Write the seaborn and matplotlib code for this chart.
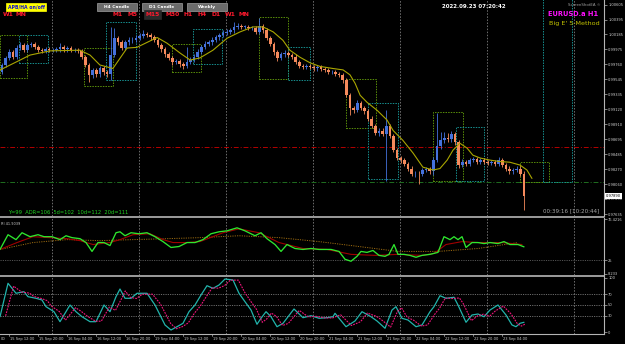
import numpy as np
import pandas as pd
import matplotlib
matplotlib.use("Agg")
import matplotlib.pyplot as plt
import seaborn as sns
from matplotlib.patches import Rectangle
from matplotlib.lines import Line2D

# ---------------- data ----------------
OPEN = [0.9965, 0.9975, 0.9985, 0.9993, 0.9987, 0.9999, 1.0003, 0.9996, 1.0003, 1.0005,
        1.0000, 0.9996, 0.9995, 0.9997, 0.9996, 0.9996, 0.9997, 1.0000, 0.9997, 0.9999,
        0.9996, 0.9996, 0.9995, 0.9986, 0.9975, 0.9961, 0.9968, 0.9962, 0.9970, 0.9965,
        0.9962, 0.9989, 1.0013, 1.0007, 0.9999, 1.0007, 1.0010, 1.0010, 1.0013, 1.0016,
        1.0019, 1.0017, 1.0014, 1.0010, 1.0003, 0.9997, 0.9990, 0.9985, 0.9979, 0.9980,
        0.9976, 0.9973, 0.9979, 0.9982, 0.9986, 0.9993, 1.0000, 1.0005, 1.0007, 1.0010,
        1.0014, 1.0017, 1.0020, 1.0022, 1.0024, 1.0029, 1.0030, 1.0029, 1.0029, 1.0027,
        1.0027, 1.0022, 1.0030, 1.0024, 1.0013, 1.0005, 0.9993, 0.9985, 0.9990, 0.9992,
        0.9989, 0.9987, 0.9979, 0.9973, 0.9972, 0.9973, 0.9972, 0.9970, 0.9972, 0.9969,
        0.9968, 0.9965, 0.9965, 0.9962, 0.9961, 0.9953, 0.9932, 0.9914, 0.9911, 0.9921,
        0.9914, 0.9909, 0.9899, 0.9888, 0.9878, 0.9882, 0.9877, 0.9888, 0.9874, 0.9854,
        0.9843, 0.9840, 0.9834, 0.9828, 0.9820, 0.9821, 0.9820, 0.9826, 0.9827, 0.9824,
        0.9840, 0.9860, 0.9868, 0.9872, 0.9870, 0.9877, 0.9865, 0.9833, 0.9837, 0.9834,
        0.9840, 0.9841, 0.9838, 0.9840, 0.9837, 0.9836, 0.9837, 0.9834, 0.9840, 0.9833,
        0.9828, 0.9824, 0.9826, 0.9828, 0.9821]
CLOSE = [0.9975, 0.9985, 0.9993, 0.9987, 0.9999, 1.0003, 0.9996, 1.0003, 1.0005, 1.0000,
         0.9996, 0.9995, 0.9997, 0.9996, 0.9996, 0.9997, 1.0000, 0.9997, 0.9999, 0.9996,
         0.9996, 0.9995, 0.9986, 0.9975, 0.9961, 0.9968, 0.9962, 0.9970, 0.9965, 0.9962,
         0.9989, 1.0013, 1.0007, 0.9999, 1.0007, 1.0010, 1.0010, 1.0013, 1.0016, 1.0019,
         1.0017, 1.0014, 1.0010, 1.0003, 0.9997, 0.9990, 0.9985, 0.9979, 0.9980, 0.9976,
         0.9973, 0.9979, 0.9982, 0.9986, 0.9993, 1.0000, 1.0005, 1.0007, 1.0010, 1.0014,
         1.0017, 1.0020, 1.0022, 1.0024, 1.0029, 1.0030, 1.0029, 1.0029, 1.0027, 1.0027,
         1.0022, 1.0030, 1.0024, 1.0013, 1.0005, 0.9993, 0.9985, 0.9990, 0.9992, 0.9989,
         0.9987, 0.9979, 0.9973, 0.9972, 0.9973, 0.9972, 0.9970, 0.9972, 0.9969, 0.9968,
         0.9965, 0.9965, 0.9962, 0.9961, 0.9953, 0.9932, 0.9914, 0.9911, 0.9921, 0.9914,
         0.9909, 0.9899, 0.9888, 0.9878, 0.9882, 0.9877, 0.9888, 0.9874, 0.9854, 0.9843,
         0.9840, 0.9834, 0.9828, 0.9820, 0.9821, 0.9820, 0.9826, 0.9827, 0.9824, 0.9840,
         0.9860, 0.9868, 0.9872, 0.9870, 0.9877, 0.9865, 0.9833, 0.9837, 0.9834, 0.9840,
         0.9841, 0.9838, 0.9840, 0.9837, 0.9836, 0.9837, 0.9834, 0.9840, 0.9833, 0.9828,
         0.9824, 0.9826, 0.9828, 0.9821, 0.9789]
HIGH = [0.9978, 0.9988, 0.9998, 0.9996, 1.0003, 1.0007, 1.0006, 1.0006, 1.0008, 1.0008,
        1.0003, 0.9999, 1.0000, 1.0000, 0.9999, 1.0000, 1.0006, 1.0003, 1.0002, 1.0002,
        0.9999, 0.9999, 0.9998, 0.9989, 0.9978, 0.9971, 0.9971, 0.9973, 0.9973, 0.9968,
        1.0029, 1.0027, 1.0016, 1.0010, 1.0010, 1.0014, 1.0014, 1.0017, 1.0021, 1.0024,
        1.0022, 1.0020, 1.0017, 1.0013, 1.0006, 1.0000, 0.9993, 0.9988, 0.9984, 0.9983,
        0.9979, 1.0000, 0.9986, 0.9990, 0.9997, 1.0004, 1.0009, 1.0011, 1.0014, 1.0018,
        1.0021, 1.0024, 1.0026, 1.0028, 1.0036, 1.0034, 1.0033, 1.0032, 1.0032, 1.0030,
        1.0030, 1.0041, 1.0033, 1.0027, 1.0016, 1.0008, 0.9996, 0.9994, 0.9996, 0.9995,
        0.9992, 0.9990, 0.9982, 0.9976, 0.9977, 0.9976, 0.9975, 0.9975, 0.9975, 0.9972,
        0.9971, 0.9968, 0.9968, 0.9965, 0.9964, 0.9956, 0.9935, 0.9917, 0.9925, 0.9924,
        0.9917, 0.9912, 0.9902, 0.9891, 0.9886, 0.9885, 0.9911, 0.9891, 0.9877, 0.9857,
        0.9846, 0.9843, 0.9837, 0.9831, 0.9824, 0.9824, 0.9829, 0.9830, 0.9830, 0.9844,
        0.9907, 0.9880, 0.9880, 0.9878, 0.9882, 0.9880, 0.9868, 0.9841, 0.9840, 0.9843,
        0.9844, 0.9844, 0.9843, 0.9843, 0.9840, 0.9840, 0.9840, 0.9844, 0.9843, 0.9836,
        0.9831, 0.9829, 0.9831, 0.9831, 0.9824]
LOW = [0.9962, 0.9972, 0.9982, 0.9984, 0.9984, 0.9996, 0.9993, 0.9993, 1.0000, 0.9997,
       0.9993, 0.9992, 0.9992, 0.9993, 0.9993, 0.9993, 0.9993, 0.9994, 0.9994, 0.9993,
       0.9993, 0.9992, 0.9983, 0.9972, 0.9951, 0.9957, 0.9958, 0.9958, 0.9961, 0.9958,
       0.9953, 0.9986, 1.0004, 0.9996, 0.9996, 1.0004, 1.0006, 1.0007, 1.0010, 1.0013,
       1.0014, 1.0011, 1.0007, 1.0000, 0.9994, 0.9987, 0.9982, 0.9975, 0.9976, 0.9972,
       0.9969, 0.9970, 0.9976, 0.9979, 0.9983, 0.9990, 0.9997, 1.0002, 1.0004, 1.0007,
       1.0011, 1.0014, 1.0017, 1.0019, 1.0021, 1.0026, 1.0026, 1.0026, 1.0024, 1.0024,
       1.0019, 1.0019, 1.0021, 1.0010, 1.0002, 0.9989, 0.9981, 0.9982, 0.9987, 0.9986,
       0.9984, 0.9976, 0.9970, 0.9969, 0.9969, 0.9969, 0.9967, 0.9967, 0.9966, 0.9965,
       0.9962, 0.9962, 0.9959, 0.9958, 0.9950, 0.9929, 0.9904, 0.9907, 0.9908, 0.9911,
       0.9905, 0.9896, 0.9885, 0.9875, 0.9874, 0.9874, 0.9811, 0.9871, 0.9851, 0.9840,
       0.9836, 0.9831, 0.9825, 0.9817, 0.9816, 0.9806, 0.9817, 0.9823, 0.9821, 0.9819,
       0.9837, 0.9856, 0.9864, 0.9866, 0.9866, 0.9862, 0.9829, 0.9830, 0.9831, 0.9831,
       0.9837, 0.9835, 0.9835, 0.9834, 0.9833, 0.9833, 0.9831, 0.9831, 0.9830, 0.9825,
       0.9821, 0.9821, 0.9823, 0.9818, 0.9769]

MA_X = [-0.5, 5.0, 7.7, 13.2, 21.5, 24.3, 27.0, 30.6, 34.5, 37.2, 40.0, 42.8, 45.5, 49.1, 51.9,
        54.6, 58.2, 62.1, 65.7, 69.2, 72.0, 74.8, 77.5, 79.4, 82.2, 85.0, 87.7, 91.3, 94.1, 96.0,
        97.4, 98.8, 100.7, 103.4, 106.2, 107.9, 110.6, 113.4, 116.1, 118.9, 120.8, 122.8, 124.4,
        126.3, 128.3, 129.9, 131.9, 134.6, 137.4, 140.1, 142.9, 144.8, 146.2]
MA_Y = [0.9968, 0.9982, 0.9989, 0.9995, 0.9996, 0.9989, 0.9975, 0.9970, 0.9999, 1.0000,
        1.0007, 1.0014, 1.0006, 0.9992, 0.9982, 0.9985, 0.9996, 1.0013, 1.0022, 1.0029,
        1.0029, 1.0022, 1.0010, 0.9996, 0.9986, 0.9978, 0.9973, 0.9970, 0.9968, 0.9961,
        0.9949, 0.9932, 0.9922, 0.9911, 0.9897, 0.9882, 0.9868, 0.9850, 0.9830, 0.9826,
        0.9828, 0.9840, 0.9854, 0.9864, 0.9857, 0.9847, 0.9843, 0.9840, 0.9838, 0.9837,
        0.9833, 0.9826, 0.9814]

BOX_START = [-0.55, 4.7, 22.6, 28.7, 46.9, 52.7, 70.9, 78.9, 94.9, 101.0, 118.9, 125.2, 142.9, 149.2]
BOX_END = [6.9, 12.7, 30.6, 37.0, 54.9, 60.7, 78.9, 85.0, 103.2, 109.2, 127.2, 133.0, 150.9, 157.2]
BOX_TOP = [1.0017, 1.0017, 0.9999, 1.0036, 1.0005, 1.0026, 1.0043, 1.0000, 0.9955, 0.9921,
           0.9908, 0.9887, 0.9837, 1.0072]
BOX_BOTTOM = [0.9956, 0.9978, 0.9945, 0.9953, 0.9965, 0.9976, 0.9955, 0.9953, 0.9885, 0.9813,
              0.9811, 0.9810, 0.9809, 0.9809]
BOX_KIND = ['g', 't', 'g', 't', 'g', 't', 'g', 't', 'g', 't', 'g', 't', 'g', 't']

LEVEL_RED = 0.9858
LEVEL_GREEN = 0.9809

PRICE_TICKS = [1.00605, 1.00395, 1.00185, 0.99975, 0.99760, 0.99545, 0.99335, 0.99120,
               0.98910, 0.98695, 0.98485, 0.98270, 0.98060, 0.97850, 0.97635]
CURRENT_PRICE = 0.97890

RSI_X = [-0.55, 1.66, 3.86, 5.52, 7.72, 9.93, 11.59, 13.79, 16.0, 17.66, 19.31, 21.52, 23.17,
         24.83, 26.48, 28.14, 29.79, 31.45, 32.55, 33.93, 35.59, 37.79, 40.0, 42.21, 44.41,
         46.62, 48.83, 51.03, 53.24, 55.45, 57.66, 59.86, 62.07, 64.83, 67.03, 69.79, 71.45,
         73.1, 75.31, 76.97, 78.62, 80.83, 83.03, 85.24, 87.45, 90.76, 92.97, 94.62, 96.28,
         97.93, 99.03, 100.69, 102.34, 104.0, 105.66, 106.76, 108.14, 109.24, 110.9, 112.55,
         114.21, 115.86, 118.07, 120.28, 121.93, 123.59, 124.69, 125.79, 126.9, 128.0, 129.66,
         131.31, 132.97, 134.62, 136.83, 138.48, 140.14, 142.34, 144.0]
RSI_V = [38.6, 57.2, 51.0, 59.7, 54.7, 57.2, 54.7, 54.7, 51.0, 55.9, 53.5, 52.2, 47.3, 36.1,
         47.3, 47.3, 43.5, 59.7, 60.9, 55.9, 59.7, 58.4, 59.7, 54.7, 48.5, 41.1, 42.3, 47.3,
         47.3, 51.0, 58.4, 60.9, 62.1, 65.9, 62.1, 55.9, 59.7, 52.2, 44.8, 36.1, 44.8, 39.8,
         38.6, 39.8, 38.6, 38.6, 36.1, 26.2, 23.7, 29.9, 36.1, 34.9, 37.3, 31.1, 29.9, 32.4,
         44.8, 32.4, 32.4, 31.1, 28.7, 31.1, 32.4, 34.9, 54.7, 51.0, 54.7, 51.0, 54.7, 41.1,
         47.3, 47.3, 46.0, 47.3, 46.0, 48.5, 44.8, 44.8, 41.9]
RSI_MA_X = [-0.55, 4.14, 8.55, 13.24, 17.93, 21.52, 25.1, 29.79, 32.55, 36.14, 40.83, 44.41,
            47.17, 51.03, 54.62, 60.97, 65.38, 70.9, 76.41, 83.03, 89.66, 96.28, 102.9, 109.24,
            115.86, 119.17, 122.48, 126.9, 131.31, 137.93, 143.45]
RSI_MA_V = [38.6, 47.3, 54.7, 53.5, 52.2, 49.7, 44.8, 47.3, 51.0, 57.2, 58.4, 51.0, 47.3, 47.3,
            48.5, 59.7, 64.6, 59.7, 47.3, 39.8, 38.6, 32.4, 31.1, 32.4, 31.1, 33.6, 44.8, 48.5,
            47.3, 47.3, 44.8]
RSI_SLOW_X = [-0.55, 8.55, 17.93, 27.03, 36.14, 45.52, 54.62, 65.38, 76.41, 87.45, 98.48,
              109.24, 120.28, 131.31, 142.34]
RSI_SLOW_V = [38.6, 47.3, 51.0, 49.7, 51.0, 52.2, 53.5, 55.9, 53.5, 48.5, 42.3, 36.1, 36.1,
              39.8, 47.3]
RSI_LEVEL = 25
RSI_TOP, RSI_BOTTOM = 76.4216, 8.233

STO_X = [-0.55, 1.66, 3.86, 6.07, 7.17, 9.38, 11.03, 12.14, 14.34, 16.0, 18.76, 20.41, 22.07,
         24.28, 25.93, 28.14, 29.79, 31.45, 32.55, 33.93, 35.59, 37.24, 40.0, 42.21, 44.97,
         46.62, 48.28, 49.93, 51.59, 53.24, 54.9, 56.55, 58.21, 59.86, 61.52, 63.72, 65.38,
         67.03, 68.69, 70.34, 71.45, 72.83, 74.21, 75.86, 77.52, 80.55, 83.03, 85.24, 87.45,
         89.66, 91.31, 91.86, 94.9, 97.38, 99.31, 101.79, 103.45, 105.66, 107.59, 108.69,
         110.34, 112.0, 114.21, 115.86, 118.07, 119.17, 120.83, 122.48, 124.69, 125.79, 128.0,
         129.66, 131.31, 132.97, 134.62, 136.83, 139.03, 140.69, 141.79, 142.9, 144.0]
STO_V = [28.3, 90.2, 71.7, 74.6, 65.4, 62.4, 59.3, 46.9, 37.6, 19.1, 50.0, 37.6, 28.3, 19.1,
         19.1, 50.0, 37.6, 65.4, 79.6, 62.4, 62.4, 71.7, 71.7, 50.0, 13.0, 3.7, 9.8, 16.1, 37.6,
         50.0, 68.5, 85.7, 80.9, 87.0, 98.1, 96.3, 71.7, 56.1, 40.7, 14.3, 25.4, 37.6, 28.3, 9.8,
         16.1, 42.6, 26.5, 30.2, 25.4, 26.5, 28.3, 34.6, 9.8, 20.4, 37.6, 28.3, 20.4, 6.9, 40.7,
         46.9, 25.4, 22.2, 9.8, 13.0, 37.6, 46.9, 67.2, 62.4, 64.3, 50.0, 18.0, 31.5, 33.3, 28.3,
         40.7, 50.0, 31.5, 13.0, 9.8, 16.1, 18.0]
SIG_X = [1.0, 3.2, 5.4, 7.6, 8.7, 10.9, 12.5, 13.6, 15.8, 17.5, 20.3, 21.9, 23.6, 25.8, 27.4,
         29.6, 31.3, 33.0, 34.0, 35.4, 37.1, 38.7, 41.5, 43.7, 46.5, 48.1, 49.8, 51.4, 53.1,
         54.7, 56.4, 58.0, 59.7, 61.4, 63.0, 65.2, 66.9, 68.5, 70.2, 71.8, 73.0, 74.3, 75.7,
         77.4, 79.0, 82.0, 84.5, 86.7, 89.0, 91.2, 93.4, 96.4, 98.9, 100.8, 103.3, 105.0, 107.2,
         109.1, 110.2, 111.8, 113.5, 115.7, 117.4, 119.6, 120.7, 122.3, 124.0, 126.2, 127.3,
         129.5, 131.2, 132.8, 134.5, 136.1, 138.3, 140.5, 142.2, 143.3, 144.4]
SIG_V = [30, 85, 74, 72, 66, 62, 58, 48, 38, 22, 45, 38, 29, 20, 20, 46, 40, 62, 76, 64, 62,
         70, 70, 52, 16, 6, 10, 17, 35, 48, 66, 82, 81, 86, 96, 96, 74, 58, 42, 18, 24, 35, 29,
         12, 16, 40, 28, 29, 26, 26, 32, 12, 19, 35, 29, 21, 9, 38, 45, 27, 22, 11, 13, 35, 44,
         63, 62, 63, 52, 21, 30, 33, 29, 39, 48, 33, 15, 11, 15]
STO_LEVELS = [70, 50, 30]
STO_TICKS = [100, 70, 50, 30, 0]

DAY_BREAKS = [13.8, 37.8, 61.8, 85.8, 109.8, 133.8, 157.8]
TIME_BARS = [2, 10, 18, 26, 34, 42, 50, 58, 66, 74, 82, 90, 98, 106, 114, 122, 130, 138]
TIME_LABELS = ["15 Sep 12:00", "15 Sep 20:00", "16 Sep 04:00", "16 Sep 12:00",
               "16 Sep 20:00", "19 Sep 04:00", "19 Sep 12:00", "19 Sep 20:00", "20 Sep 04:00",
               "20 Sep 12:00", "20 Sep 20:00", "21 Sep 04:00", "21 Sep 12:00", "21 Sep 20:00",
               "22 Sep 04:00", "22 Sep 12:00", "22 Sep 20:00", "23 Sep 04:00"]
LEFT_STUB = "00"

TF_BUTTONS = ["M1", "M5", "M15", "M30", "H1", "H4", "D1", "W1", "MN"]
BUTTONS = ["H4 Candle", "D1 Candle", "Weekly"]

# ---------------- style ----------------
sns.set_theme(style="dark")
plt.rcParams['font.family'] = ['DejaVu Sans']
BG = "black"
BLUE = "#4572dc"
ORANGE = "#f58a5c"
GRID = "#8a8a8a"
AXC = "#b4b4b4"
TXT = "#cfcfcf"
RED_TXT = "#ff1a2e"

W, H = 625, 344
fig = plt.figure(figsize=(6.25, 3.44), dpi=100, facecolor=BG)


def fx(x):
    return x / W


def fy(y):
    return 1 - y / H


def add_ax(y0, y1, x0=0, x1=604):
    a = fig.add_axes([fx(x0), fy(y1), (x1 - x0) / W, (y1 - y0) / H])
    a.set_facecolor(BG)
    for s in a.spines.values():
        s.set_visible(False)
    a.spines['right'].set_visible(True)
    a.spines['right'].set_color(AXC)
    a.spines['right'].set_linewidth(0.8)
    a.grid(False)
    a.set_xlim(-0.552, 166.07)
    a.set_xticks([])
    a.yaxis.tick_right()
    a.tick_params(axis='y', labelsize=2.6, colors=AXC, labelcolor=TXT, length=1.8,
                  width=0.5, pad=1.2)
    return a


ax = add_ax(0, 216)
ax2 = add_ax(218, 275)
ax3 = add_ax(276, 334)

# ---------------- main price panel ----------------
ax.set_ylim(0.97607, 1.00672)
o = np.array(OPEN)
c = np.array(CLOSE)
hi = np.array(HIGH)
lo = np.array(LOW)
xb = np.arange(len(c))
cols = np.where(c >= o, BLUE, ORANGE)

for g in DAY_BREAKS:
    for a in (ax, ax2, ax3):
        a.axvline(g, color=GRID, lw=0.55, ls=(0, (2, 2)), zorder=1)

ax.axhline(LEVEL_RED, color="#b40000", lw=0.7, ls=(0, (5, 2, 1, 2)), zorder=1)
ax.axhline(LEVEL_GREEN, color="#1f6e1f", lw=0.7, ls=(0, (5, 2, 1, 2)), zorder=1)

for s, e, t, b, k in zip(BOX_START, BOX_END, BOX_TOP, BOX_BOTTOM, BOX_KIND):
    ec = "#5a8f0a" if k == 'g' else "#168f8f"
    ax.add_patch(Rectangle((s, b), e - s, t - b, fill=False, ec=ec, lw=0.7,
                           ls=(0, (1.5, 1.2)), zorder=2))

ax.vlines(xb, lo, hi, colors=cols, lw=0.6, zorder=3)
body = np.maximum(np.abs(c - o), 0.00006)
ax.bar(xb, body, bottom=np.minimum(o, c), width=0.75, color=cols, lw=0, zorder=4)

sns.lineplot(x=MA_X, y=MA_Y, ax=ax, color="#aaa600", lw=0.8, estimator=None, sort=False,
             legend=False, zorder=5)
ax.set_xlabel("")
ax.set_ylabel("")

ax.set_yticks(PRICE_TICKS)
ax.set_yticklabels([f"{v:.5f}" for v in PRICE_TICKS])
ax.text(1.003, CURRENT_PRICE, f"{CURRENT_PRICE:.5f}", transform=ax.get_yaxis_transform(),
        fontsize=2.6, color="black", ha='left', va='center', clip_on=False,
        bbox=dict(boxstyle="square,pad=0.3", fc="white", ec="white", lw=0), zorder=10)
ax.set_xlim(-0.552, 166.07)

# ---------------- RSI-type panel ----------------
ax2.set_ylim(6.34, 78.3)
ax2.axhline(RSI_LEVEL, color="#6a6a6a", lw=0.55, ls=(0, (1.5, 1.5)), zorder=1)
sns.lineplot(x=RSI_SLOW_X, y=RSI_SLOW_V, ax=ax2, color="#9a6a10", lw=0.7, estimator=None,
             sort=False, legend=False, zorder=2)
ax2.lines[-1].set_linestyle((0, (1.2, 1.2)))
sns.lineplot(x=RSI_MA_X, y=RSI_MA_V, ax=ax2, color="#a00000", lw=0.8, estimator=None,
             sort=False, legend=False, zorder=3)
sns.lineplot(x=RSI_X, y=RSI_V, ax=ax2, color="#2ee62e", lw=0.95, estimator=None, sort=False,
             legend=False, zorder=4)
ax2.set_yticks([RSI_TOP, RSI_LEVEL, RSI_BOTTOM])
ax2.set_yticklabels(["76.4216", "25", "8.233"])
ax2.set_xlabel("")
ax2.set_ylabel("")
ax2.set_xlim(-0.552, 166.07)
ax2.text(0.002, 0.9, "RI 41.9039", transform=ax2.transAxes, fontsize=2.5, color=TXT,
         ha='left', va='center')

# ---------------- stochastic panel ----------------
ax3.set_ylim(-3.7, 103.7)
for lv in STO_LEVELS:
    ax3.axhline(lv, color="#8a8a8a", lw=0.55, ls=(0, (1.5, 1.5)), zorder=1)
sns.lineplot(x=STO_X, y=STO_V, ax=ax3, color="#22b4ac", lw=0.9, estimator=None, sort=False,
             legend=False, zorder=3)
sns.lineplot(x=SIG_X, y=SIG_V, ax=ax3, color="#f0147c", lw=0.8, estimator=None, sort=False,
             legend=False, zorder=4)
ax3.lines[-1].set_linestyle((0, (1.6, 1.0)))
ax3.set_yticks(STO_TICKS)
ax3.set_yticklabels([str(v) for v in STO_TICKS])
ax3.spines['bottom'].set_visible(True)
ax3.spines['bottom'].set_color(AXC)
ax3.spines['bottom'].set_linewidth(0.8)
ax3.set_xlabel("")
ax3.set_ylabel("")
ax3.set_xlim(-0.552, 166.07)
trans = ax3.get_xaxis_transform()
for b, lab in zip(TIME_BARS, TIME_LABELS):
    ax3.text(b + 0.3, -0.085, lab, transform=trans, fontsize=2.6, color=TXT, ha='left',
             va='center', clip_on=False)
    ax3.plot([b, b], [0, -0.03], transform=trans, color=AXC, lw=0.5, clip_on=False)
fig.text(fx(0.5), fy(339), LEFT_STUB, fontsize=2.6, color=TXT, ha='left', va='center')

# ---------------- figure-level decorations ----------------
for yy in (217.2, 275.5):
    fig.add_artist(Line2D([0, fx(604)], [fy(yy), fy(yy)], color="#a8a8a8", lw=1.3))


def ftext(x, y, s, **kw):
    fig.text(fx(x), fy(y), s, va='center', **kw)


def fbox(x0, y0, x1, y1, fc, ec=None):
    fig.add_artist(Rectangle((fx(x0), fy(y1)), (x1 - x0) / W, (y1 - y0) / H,
                             transform=fig.transFigure, fc=fc, ec=ec or fc, lw=0.5))


fbox(6, 3, 46, 11, "#ffff00")
ftext(26, 7, "APB/HA on/off", fontsize=3.3, color="#1010d0", ha='center', fontweight='bold')
ftext(3, 14.5, "W1", fontsize=4.3, color=RED_TXT, fontweight='bold')
ftext(16, 14.5, "MN", fontsize=4.3, color=RED_TXT, fontweight='bold')

for x0, lab in zip([97, 142, 187], BUTTONS):
    fbox(x0, 3, x0 + 40, 11, "#6c6c6c", "#a0a0a0")
    ftext(x0 + 20, 7, lab, fontsize=3.2, color="white", ha='center', fontweight='bold')

fbox(144, 10, 161, 19, "#2a2a2a")
for x0, lab in zip([113, 128, 146, 166, 184, 197, 211, 225, 238], TF_BUTTONS):
    ftext(x0, 14.5, lab, fontsize=4.3, color=RED_TXT, fontweight='bold')

ftext(442, 6.5, "2022.09.23 07:20:42", fontsize=4.0, color="white", fontweight='bold')
ftext(568, 5, "ScreenShotEA ©", fontsize=2.8, color="#a0a0a0")
ftext(548, 14, "EURUSD.a H1", fontsize=4.8, color="#ff10ff", fontweight='bold')
ftext(549, 23.5, "Big E' 5-Method", fontsize=4.6, color="#c4c400")
ftext(543, 211, "00:39:16 [10:20:44]", fontsize=4.1, color="#a8a8a8")
ftext(8, 212, "Y=99  ADR=106  5d=102  10d=112  20d=111", fontsize=3.7, color="#20d020")

fig.savefig("out.png", dpi=100, facecolor=BG)
